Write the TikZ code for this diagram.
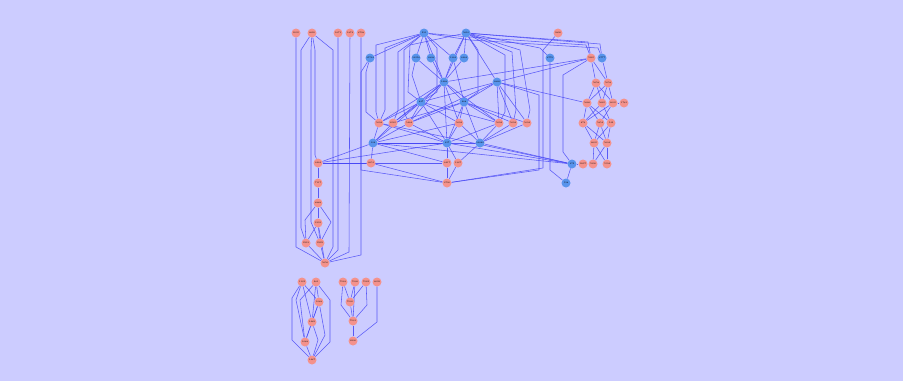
\documentclass[tikz,border=0pt]{standalone}
\usetikzlibrary{backgrounds}
\definecolor{bgc}{RGB}{204,204,255}
\definecolor{salm}{RGB}{244,146,140}
\definecolor{bluen}{RGB}{88,148,236}
\definecolor{edgec}{RGB}{70,70,245}
\tikzset{
  nd/.style={circle,minimum size=9pt,inner sep=0pt,font=\fontsize{2.2}{2.2}\selectfont},
  sn/.style={nd,fill=salm},
  bn/.style={nd,fill=bluen},
  lk/.style={draw=edgec,line width=0.55pt,opacity=0.85}
}
\begin{document}
\begin{tikzpicture}[x=1pt,y=-1pt]
\useasboundingbox (0,0) rectangle (903,381);
% ---------- left cluster
\node[sn] (L1) at (296,33) {2095};
\node[sn] (L2) at (312,33) {4620};
\node[sn] (L3) at (338,33) {1671};
\node[sn] (L4) at (350,33) {1874};
\node[sn] (L5) at (361,33) {8798};
\node[sn] (L6) at (318,163) {4444};
\node[sn] (L7) at (318,183) {7117};
\node[sn] (L8) at (318,203) {8888};
\node[sn] (L9) at (318,223) {1991};
\node[sn] (L10) at (306,243) {2919};
\node[sn] (L11) at (320,243) {2929};
\node[sn] (L12) at (325,263) {5656};
% ---------- centre cluster
\node[bn] (A1) at (424,33) {291};
\node[bn] (A2) at (466,33) {5610};
\node[bn] (B1) at (370,58) {35704};
\node[bn] (B2) at (416,58) {10258};
\node[bn] (B3) at (431,58) {4808};
\node[bn] (B4) at (453,58) {1364};
\node[bn] (B5) at (464,58) {4464};
\node[bn] (C1) at (444,82) {1468};
\node[bn] (C2) at (497,82) {6846};
\node[bn] (D1) at (421,102) {847};
\node[bn] (D2) at (464,102) {668};
\node[sn] (E1) at (379,123) {5094};
\node[sn] (E2) at (393,123) {6565};
\node[sn] (E3) at (409,123) {5464};
\node[sn] (E4) at (459,123) {5094};
\node[sn] (E5) at (499,123) {5094};
\node[sn] (E6) at (513,123) {5094};
\node[sn] (E7) at (527,123) {5094};
\node[bn] (F1) at (373,143) {106};
\node[bn] (F2) at (447,143) {327};
\node[bn] (F3) at (480,143) {10060};
\node[sn] (G1) at (371,163) {3651};
\node[sn] (G2) at (447,163) {4417};
\node[sn] (G3) at (458,163) {1347};
\node[sn] (H) at (447,183) {4790};
% ---------- right cluster
\node[sn] (R0) at (558,33) {9890};
\node[bn] (BR) at (550,58) {8776};
\node[sn] (R1) at (591,58) {5965};
\node[bn] (R2) at (602,58) {8777};
\node[sn] (Q1) at (596,83) {5658};
\node[sn] (Q2) at (608,83) {5058};
\node[sn] (Q3) at (587,103) {5666};
\node[sn] (Q4) at (602,103) {5665};
\node[sn] (Q5) at (613,103) {6005};
\node[sn] (Q6) at (624,103) {1781};
\node[sn] (Q7) at (583,123) {673};
\node[sn] (Q8) at (600,123) {5854};
\node[sn] (Q9) at (611,123) {549};
\node[sn] (Q10) at (594,143) {6605};
\node[sn] (Q11) at (607,143) {5604};
\node[bn] (S1) at (572,164) {372};
\node[sn] (Q12) at (583,164) {2627};
\node[sn] (Q13) at (593,164) {5990};
\node[sn] (Q14) at (607,164) {5594};
\node[bn] (S2) at (566,183) {598};
% ---------- bottom clusters
\node[sn] (M1) at (302,282) {1132};
\node[sn] (M2) at (316,282) {981};
\node[sn] (M3) at (319,302) {1088};
\node[sn] (M4) at (312,322) {1489};
\node[sn] (M5) at (305,342) {1088};
\node[sn] (M6) at (312,360) {1487};
\node[sn] (N1) at (343,282) {7063};
\node[sn] (N2) at (355,282) {7036};
\node[sn] (N3) at (366,282) {7062};
\node[sn] (N4) at (377,282) {6099};
\node[sn] (N5) at (350,302) {7030};
\node[sn] (N6) at (353,321) {7031};
\node[sn] (N7) at (353,341) {6900};
\begin{scope}[on background layer]
\fill[bgc] (0,0) rectangle (903,381);
% left cluster edges
\draw[lk] (L1) -- (296,247) -- (L12);
\draw[lk] (L2) -- (315,50) -- (315,155) -- (L6);
\draw[lk] (L2) -- (301,50) -- (301,228) -- (L10);
\draw[lk] (L2) -- (311,50) -- (311,222) -- (L11);
\draw[lk] (L2) -- (333,50) -- (333,247) -- (L12);
\draw[lk] (L3) -- (338,250) -- (L12);
\draw[lk] (L4) -- (349,252) -- (L12);
\draw[lk] (L5) -- (361,255) -- (L12);
\draw[lk] (L6) -- (L7);
\draw[lk] (L7) -- (L8);
\draw[lk] (L8) -- (L9);
\draw[lk] (L8) -- (305,220) -- (L10);
\draw[lk] (L8) -- (331,222) -- (L11);
\draw[lk] (L9) -- (L10);
\draw[lk] (L9) -- (L11);
\draw[lk] (L9) -- (L12);
\draw[lk] (L10) -- (L12);
\draw[lk] (L11) -- (L12);
\draw[lk] (F1) -- (L6);
\draw[lk] (L6) -- (F2);
\draw[lk] (L6) -- (G2);
\draw[lk] (L6) -- (G1);
% centre top
\draw[lk] (A1) -- (B1);
\draw[lk] (A1) -- (B2);
\draw[lk] (A1) -- (B3);
\draw[lk] (A1) -- (B4);
\draw[lk] (A1) -- (C1);
\draw[lk] (A1) -- (385,48) -- (385,110) -- (E1);
\draw[lk] (A1) -- (398,52) -- (398,110) -- (E2);
\draw[lk] (A1) -- (404,50) -- (404,112) -- (E3);
\draw[lk] (A1) -- (376,45) -- (376,112) -- (E1);
\draw[lk] (A1) -- (470,37) -- (586,45) -- (R1);
\draw[lk] (A1) -- (470,40) -- (598,48) -- (R2);
\draw[lk] (A1) -- (437,48) -- (437,92) -- (D1);
\draw[lk] (A2) -- (B4);
\draw[lk] (A2) -- (B5);
\draw[lk] (A2) -- (C1);
\draw[lk] (A2) -- (C2);
\draw[lk] (A2) -- (520,50) -- (530,110) -- (E7);
\draw[lk] (A2) -- (512,52) -- (516,110) -- (E6);
\draw[lk] (A2) -- (505,55) -- (505,112) -- (E5);
\draw[lk] (A2) -- (588,42) -- (R1);
\draw[lk] (A2) -- (600,44) -- (R2);
\draw[lk] (A2) -- (540,48) -- (BR);
\draw[lk] (A2) -- (478,50) -- (478,92) -- (D2);
\draw[lk] (A2) -- (410,45) -- (408,92) -- (D1);
\draw[lk] (B1) -- (366,72) -- (366,112) -- (E1);
\draw[lk] (B1) -- (361,72) -- (361,170) -- (H);
\draw[lk] (B2) -- (C1);
\draw[lk] (B3) -- (C1);
\draw[lk] (B4) -- (C1);
\draw[lk] (B5) -- (C1);
\draw[lk] (B4) -- (D2);
\draw[lk] (B2) -- (412,75) -- (D1);
% centre middle
\draw[lk] (C1) -- (D1);
\draw[lk] (C1) -- (D2);
\draw[lk] (C1) -- (E2);
\draw[lk] (C1) -- (E3);
\draw[lk] (C1) -- (E4);
\draw[lk] (C1) -- (E5);
\draw[lk] (C1) -- (E1);
\draw[lk] (C1) -- (R1);
\draw[lk] (C1) -- (F2);
\draw[lk] (C2) -- (D2);
\draw[lk] (C2) -- (D1);
\draw[lk] (C2) -- (E5);
\draw[lk] (C2) -- (E6);
\draw[lk] (C2) -- (E7);
\draw[lk] (C2) -- (R1);
\draw[lk] (C2) -- (Q3);
\draw[lk] (C2) -- (E3);
\draw[lk] (C2) -- (539,95) -- (539,170) -- (H);
\draw[lk] (D1) -- (E1);
\draw[lk] (D1) -- (E2);
\draw[lk] (D1) -- (E3);
\draw[lk] (D1) -- (E4);
\draw[lk] (D1) -- (F1);
\draw[lk] (D1) -- (F2);
\draw[lk] (D1) -- (E5);
\draw[lk] (D2) -- (E4);
\draw[lk] (D2) -- (E5);
\draw[lk] (D2) -- (E6);
\draw[lk] (D2) -- (E7);
\draw[lk] (D2) -- (E3);
\draw[lk] (D2) -- (E2);
\draw[lk] (D2) -- (F2);
\draw[lk] (D2) -- (F3);
\draw[lk] (E1) -- (F1);
\draw[lk] (E2) -- (F1);
\draw[lk] (E3) -- (F1);
\draw[lk] (E1) -- (F2);
\draw[lk] (E3) -- (F2);
\draw[lk] (E4) -- (F2);
\draw[lk] (E4) -- (F3);
\draw[lk] (E5) -- (F3);
\draw[lk] (E6) -- (F3);
\draw[lk] (E7) -- (F3);
\draw[lk] (E5) -- (F2);
\draw[lk] (E4) -- (F1);
% centre bottom
\draw[lk] (F1) -- (G1);
\draw[lk] (F1) -- (F2);
\draw[lk] (F1) -- (G2);
\draw[lk] (F1) -- (S1);
\draw[lk] (F1) -- (F3);
\draw[lk] (F2) -- (G2);
\draw[lk] (F2) -- (G3);
\draw[lk] (F2) -- (S1);
\draw[lk] (F3) -- (S1);
\draw[lk] (F3) -- (G3);
\draw[lk] (E1) -- (S1);
\draw[lk] (G1) -- (H);
\draw[lk] (G2) -- (H);
\draw[lk] (G3) -- (H);
\draw[lk] (R0) -- (543,50) -- (543,168) -- (H);
\draw[lk] (BR) -- (550,170) -- (S2);
\draw[lk] (R1) -- (563,75) -- (563,152) -- (S1);
% right cluster
\draw[lk] (R1) -- (Q1);
\draw[lk] (R1) -- (Q2);
\draw[lk] (R2) -- (Q2);
\draw[lk] (Q1) -- (Q3);
\draw[lk] (Q1) -- (Q4);
\draw[lk] (Q1) -- (Q5);
\draw[lk] (Q2) -- (Q3);
\draw[lk] (Q2) -- (Q4);
\draw[lk] (Q2) -- (Q5);
\draw[lk] (Q5) -- (Q6);
\draw[lk] (Q3) -- (Q7);
\draw[lk] (Q3) -- (Q8);
\draw[lk] (Q3) -- (Q9);
\draw[lk] (Q4) -- (Q7);
\draw[lk] (Q4) -- (Q9);
\draw[lk] (Q5) -- (Q8);
\draw[lk] (Q5) -- (Q7);
\draw[lk] (Q7) -- (Q10);
\draw[lk] (Q7) -- (Q11);
\draw[lk] (Q8) -- (Q10);
\draw[lk] (Q8) -- (Q11);
\draw[lk] (Q9) -- (Q10);
\draw[lk] (Q9) -- (Q11);
\draw[lk] (Q10) -- (Q13);
\draw[lk] (Q10) -- (Q14);
\draw[lk] (Q11) -- (Q13);
\draw[lk] (Q11) -- (Q14);
\draw[lk] (S1) -- (Q12);
\draw[lk] (S1) -- (S2);
% bottom cluster 1
\draw[lk] (M1) -- (M3);
\draw[lk] (M1) -- (M4);
\draw[lk] (M1) -- (296,300) -- (M5);
\draw[lk] (M1) -- (292,298) -- (292,340) -- (M6);
\draw[lk] (M2) -- (M3);
\draw[lk] (M2) -- (M4);
\draw[lk] (M2) -- (300,300) -- (M5);
\draw[lk] (M2) -- (330,300) -- (330,342) -- (M6);
\draw[lk] (M3) -- (M4);
\draw[lk] (M3) -- (M5);
\draw[lk] (M3) -- (325,335) -- (M6);
\draw[lk] (M4) -- (M5);
\draw[lk] (M4) -- (318,340) -- (M6);
\draw[lk] (M5) -- (M6);
% bottom cluster 2
\draw[lk] (N1) -- (N5);
\draw[lk] (N1) -- (341,305) -- (N6);
\draw[lk] (N2) -- (N5);
\draw[lk] (N2) -- (N6);
\draw[lk] (N3) -- (N5);
\draw[lk] (N3) -- (367,305) -- (N6);
\draw[lk] (N5) -- (N6);
\draw[lk] (N6) -- (N7);
\draw[lk] (N4) -- (377,322) -- (N7);
\end{scope}
\end{tikzpicture}
\end{document}
